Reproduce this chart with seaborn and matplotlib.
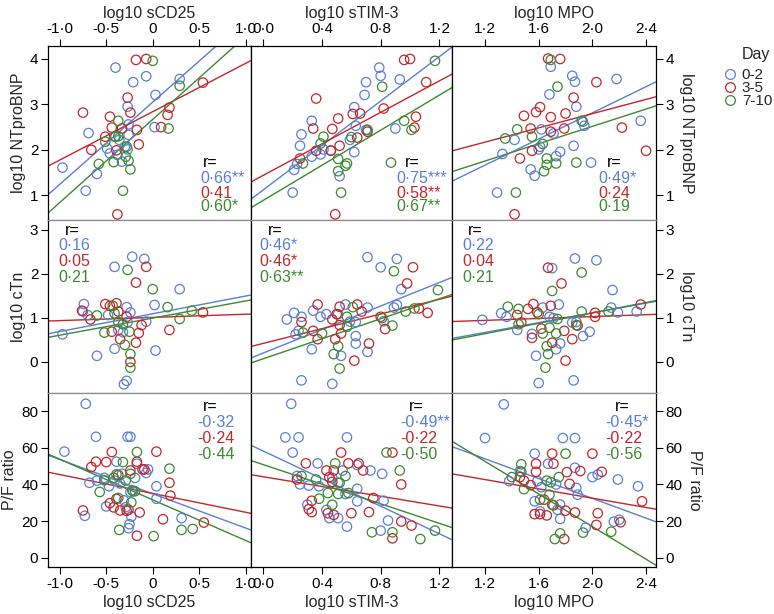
import pandas as pd
import matplotlib
matplotlib.use('Agg')
import matplotlib.pyplot as plt
from matplotlib.lines import Line2D
import seaborn as sns

sns.set_style('ticks')
plt.rcParams['font.family'] = ['Liberation Sans', 'DejaVu Sans']

DAYS = ['0-2', '3-5', '7-10']
PAL = {'0-2': '#5a7fd8', '3-5': '#c4262b', '7-10': '#3b8a2e'}

# ---- row 1: log10 NTproBNP ----
CD25_BNP_A = [(-0.97, 1.61), (-0.72, 1.10), (-0.69, 2.37), (-0.60, 1.47), (-0.40, 3.81), (-0.49, 2.03),
              (-0.46, 1.92), (-0.41, 2.29), (-0.36, 2.22), (-0.38, 1.89), (-0.33, 1.74), (-0.26, 2.33),
              (-0.30, 2.07), (-0.27, 2.01), (-0.21, 3.49), (-0.27, 2.95), (-0.26, 2.56), (-0.07, 3.62),
              (0.03, 3.21), (0.02, 2.50), (0.29, 3.56)]
CD25_BNP_B = [(-0.75, 2.82), (-0.66, 2.00), (-0.51, 2.29), (-0.46, 2.73), (-0.44, 2.49), (-0.39, 1.99),
              (-0.38, 0.58), (-0.33, 2.47), (-0.27, 3.15), (-0.24, 2.82), (-0.18, 3.98), (-0.17, 2.44),
              (-0.15, 2.12), (-0.07, 4.00), (0.09, 2.50), (0.16, 2.77), (0.18, 2.93), (0.54, 3.48)]
CD25_BNP_C = [(-0.58, 1.69), (-0.51, 2.18), (-0.40, 2.29), (-0.37, 2.64), (-0.42, 1.73), (-0.37, 2.30),
              (-0.32, 1.10), (-0.29, 1.85), (-0.28, 2.07), (-0.26, 1.76), (-0.24, 1.57), (0.00, 3.96),
              (0.17, 2.47), (0.29, 3.41)]

TIM3_BNP_A = [(0.20, 1.06), (0.21, 1.56), (0.23, 1.69), (0.25, 2.09), (0.26, 2.34), (0.33, 1.85),
              (0.33, 2.64), (0.39, 1.90), (0.41, 2.01), (0.46, 1.99), (0.52, 1.42), (0.59, 2.22),
              (0.62, 1.95), (0.62, 2.94), (0.63, 2.53), (0.69, 3.21), (0.70, 3.49), (0.70, 2.44),
              (0.79, 3.81), (0.80, 3.63), (0.90, 2.47), (0.93, 3.55)]
TIM3_BNP_B = [(0.25, 1.81), (0.34, 2.47), (0.36, 3.13), (0.36, 1.98), (0.46, 1.98), (0.47, 2.46),
              (0.51, 2.69), (0.52, 2.09), (0.49, 0.58), (0.61, 2.79), (0.66, 2.80), (0.64, 2.27),
              (0.71, 2.40), (0.82, 2.91), (0.96, 3.98), (1.00, 4.00), (1.04, 2.73), (1.03, 2.49),
              (1.11, 3.49)]
TIM3_BNP_C = [(0.27, 1.70), (0.39, 2.14), (0.41, 2.29), (0.51, 1.80), (0.51, 1.53), (0.56, 1.65),
              (0.57, 1.70), (0.53, 1.06), (0.60, 2.28), (0.71, 2.44), (0.81, 3.39), (0.87, 1.72),
              (0.96, 2.64), (1.01, 2.44), (1.17, 3.96)]

MPO_BNP_A = [(1.29, 1.06), (1.33, 1.91), (1.42, 2.22), (1.54, 1.57), (1.57, 1.43), (1.60, 2.01),
             (1.61, 2.07), (1.62, 2.45), (1.68, 3.22), (1.69, 3.83), (1.71, 2.36), (1.73, 1.86),
             (1.76, 1.96), (1.85, 3.63), (1.87, 3.50), (1.86, 2.09), (1.88, 2.95), (1.94, 2.53),
             (1.99, 1.72), (2.18, 3.56), (2.36, 2.64), (1.93, 2.62)]
MPO_BNP_B = [(1.42, 0.58), (1.46, 1.81), (1.49, 2.75), (1.54, 2.47), (1.55, 1.98), (1.58, 2.83),
             (1.61, 2.94), (1.67, 4.01), (1.69, 2.72), (1.69, 2.40), (1.76, 4.00), (1.79, 2.47),
             (1.80, 2.80), (1.86, 3.15), (2.03, 3.49), (2.22, 2.49), (2.40, 1.98)]
MPO_BNP_C = [(1.35, 2.25), (1.43, 1.06), (1.44, 2.45), (1.55, 2.29), (1.63, 2.13), (1.64, 1.53),
             (1.66, 1.67), (1.66, 1.81), (1.69, 3.98), (1.73, 1.70), (1.74, 3.39), (1.88, 1.72),
             (1.92, 2.64)]

# ---- row 2: log10 cTn ----
CD25_CTN_A = [(-0.97, 0.62), (-0.74, 1.31), (-0.75, 1.14), (-0.70, 1.06), (-0.60, 0.13), (-0.48, 1.06),
              (-0.41, 2.16), (-0.41, 0.29), (-0.37, 0.72), (-0.32, 0.67), (-0.31, -0.52), (-0.28, -0.44),
              (-0.28, 1.24), (-0.24, 1.12), (-0.22, 2.39), (-0.27, 0.90), (-0.09, 2.34), (-0.07, 0.91),
              (0.02, 1.29), (0.03, 0.25), (0.29, 1.65)]
CD25_CTN_B = [(-0.76, 1.16), (-0.67, 0.96), (-0.51, 1.31), (-0.46, 1.27), (-0.44, 0.68), (-0.39, 1.33),
              (-0.37, 1.14), (-0.35, 0.51), (-0.28, 1.02), (-0.24, -0.01), (-0.18, 0.43), (-0.18, 1.80),
              (-0.12, 0.83), (-0.15, 0.65), (-0.07, 2.16), (0.18, 0.72), (0.54, 1.12)]
CD25_CTN_C = [(-0.60, 1.05), (-0.52, 0.66), (-0.43, 1.27), (-0.41, 1.10), (-0.37, 0.90), (-0.32, 0.85),
              (-0.30, 0.38), (-0.27, 2.09), (-0.25, 0.68), (-0.24, 0.17), (-0.24, -0.14), (0.00, 1.65),
              (0.16, 1.24), (0.29, 0.97), (0.42, 1.16)]

TIM3_CTN_A = [(0.16, 0.96), (0.21, 1.11), (0.26, 1.02), (0.22, 0.62), (0.24, 0.70), (0.26, -0.43),
              (0.33, 0.28), (0.34, 1.16), (0.39, 1.02), (0.43, 1.08), (0.47, -0.51), (0.51, 1.08),
              (0.53, 0.13), (0.56, 1.30), (0.59, 0.91), (0.63, 0.90), (0.63, 0.58), (0.63, 0.41),
              (0.71, 0.22), (0.71, 2.38), (0.71, 1.23), (0.80, 2.15), (0.82, 0.92), (0.89, 1.23),
              (0.91, 1.29), (0.91, 2.34), (0.94, 1.65)]
TIM3_CTN_B = [(0.26, 0.90), (0.34, 0.70), (0.37, 0.51), (0.37, 1.30), (0.47, 0.96), (0.49, 0.51),
              (0.50, 1.08), (0.52, 1.25), (0.52, 0.83), (0.53, 0.64), (0.62, 0.02), (0.64, 1.30),
              (0.67, 1.14), (0.72, 0.41), (0.80, 1.02), (0.83, 0.74), (0.98, 1.78), (1.02, 2.15),
              (1.06, 1.21), (1.12, 1.11)]
TIM3_CTN_C = [(0.27, 0.66), (0.40, 0.64), (0.48, 0.17), (0.51, 0.35), (0.52, -0.16), (0.57, 1.02),
              (0.57, 0.79), (0.61, 1.24), (0.81, 0.99), (0.88, 0.82), (0.89, 2.06), (0.97, 1.14),
              (1.03, 1.21), (1.19, 1.63)]

MPO_CTN_A = [(1.18, 0.95), (1.32, 1.10), (1.36, 1.02), (1.44, 0.72), (1.55, 0.63), (1.58, 0.13),
             (1.60, -0.49), (1.63, 1.23), (1.68, 1.02), (1.70, 2.13), (1.71, 0.99), (1.73, 0.28),
             (1.75, 1.30), (1.76, 0.41), (1.85, 0.89), (1.87, 2.35), (1.88, 0.90), (1.86, -0.43),
             (1.93, 0.58), (1.98, 0.68), (2.03, 2.31), (2.14, 1.23), (2.15, 1.63), (2.19, 1.12),
             (2.33, 1.14)]
MPO_CTN_B = [(1.44, 1.06), (1.47, 0.89), (1.52, 1.20), (1.55, 0.54), (1.56, 1.31), (1.59, 1.12),
             (1.62, 0.75), (1.67, 2.14), (1.69, 1.27), (1.70, 0.43), (1.77, 1.78), (1.79, 0.70),
             (1.80, 0.02), (1.85, 0.51), (1.89, 0.82), (2.02, 1.11), (2.02, 1.02), (2.36, 1.30)]
MPO_CTN_C = [(1.37, 1.25), (1.45, 1.20), (1.45, 0.85), (1.60, 1.08), (1.63, 0.64), (1.65, -0.14),
             (1.66, 0.35), (1.67, 0.17), (1.68, 0.77), (1.70, 1.61), (1.73, 0.64), (1.74, 0.97),
             (1.88, 0.83), (1.92, 2.03), (1.92, 1.14), (2.12, 1.14)]

# ---- row 3: P/F ratio ----
CD25_PF_A = [(-0.95, 57.9), (-0.72, 84.0), (-0.73, 22.9), (-0.68, 40.9), (-0.61, 66.0), (-0.60, 42.1),
             (-0.52, 43.6), (-0.50, 28.0), (-0.47, 39.0), (-0.41, 42.1), (-0.39, 52.4), (-0.35, 40.5),
             (-0.33, 45.8), (-0.31, 31.3), (-0.29, 27.6), (-0.27, 66.0), (-0.24, 66.0), (-0.26, 16.1),
             (-0.25, 18.3), (-0.24, 35.9), (-0.23, 22.5), (-0.21, 36.3), (-0.19, 43.6), (-0.17, 51.3),
             (-0.07, 46.3), (-0.05, 48.2), (0.04, 39.0), (0.04, 32.2), (0.31, 21.6)]
CD25_PF_B = [(-0.75, 25.8), (-0.66, 49.5), (-0.61, 52.4), (-0.50, 52.2), (-0.46, 29.8), (-0.44, 57.7),
             (-0.42, 27.5), (-0.39, 32.1), (-0.37, 45.1), (-0.35, 25.8), (-0.28, 25.6), (-0.26, 26.2),
             (-0.24, 47.6), (-0.17, 52.4), (-0.17, 12.0), (-0.14, 24.7), (-0.11, 48.2), (-0.09, 48.2),
             (0.04, 57.9), (0.11, 21.0), (0.18, 40.9), (0.19, 33.9), (0.55, 19.2)]
CD25_PF_C = [(-0.57, 35.9), (-0.52, 42.3), (-0.42, 43.6), (-0.39, 45.5), (-0.37, 32.6), (-0.36, 15.2),
             (-0.32, 52.2), (-0.29, 42.1), (-0.24, 45.8), (-0.23, 30.2), (-0.22, 36.7), (-0.19, 36.3),
             (-0.17, 57.7), (0.01, 11.8), (0.18, 48.6), (0.31, 15.2), (0.43, 15.7)]

TIM3_PF_A = [(0.19, 84.0), (0.15, 65.7), (0.24, 65.7), (0.20, 57.4), (0.23, 44.6), (0.25, 40.0),
             (0.31, 39.4), (0.30, 28.9), (0.37, 51.5), (0.38, 39.0), (0.43, 26.1), (0.45, 21.6),
             (0.47, 43.6), (0.51, 21.6), (0.51, 40.9), (0.54, 47.6), (0.56, 34.8), (0.57, 65.7),
             (0.57, 17.0), (0.64, 37.6), (0.64, 30.8), (0.64, 50.6), (0.73, 47.6), (0.81, 45.8),
             (0.82, 31.1), (0.80, 14.8), (0.85, 20.3)]
TIM3_PF_B = [(0.23, 42.7), (0.29, 51.5), (0.33, 31.1), (0.31, 26.5), (0.33, 24.9), (0.43, 47.6),
             (0.44, 24.3), (0.45, 44.0), (0.47, 41.4), (0.48, 47.6), (0.48, 23.4), (0.53, 57.4),
             (0.58, 51.5), (0.60, 24.3), (0.65, 51.5), (0.68, 47.6), (0.72, 24.9), (0.75, 32.6),
             (0.88, 57.4), (0.88, 10.6), (0.94, 40.0), (0.94, 19.8), (1.01, 17.6)]
TIM3_PF_C = [(0.26, 44.6), (0.36, 42.7), (0.38, 32.2), (0.44, 35.3), (0.47, 28.9), (0.49, 51.5),
             (0.51, 34.8), (0.52, 40.9), (0.56, 44.6), (0.58, 35.3), (0.74, 13.9), (0.84, 57.4),
             (0.88, 13.9), (0.93, 47.6), (1.07, 10.2), (1.17, 14.8)]

MPO_PF_A = [(1.34, 83.7), (1.20, 65.3), (1.38, 41.8), (1.46, 47.3), (1.57, 56.8), (1.57, 30.8),
            (1.59, 41.8), (1.61, 25.3), (1.62, 38.5), (1.67, 51.3), (1.73, 40.0), (1.74, 26.2),
            (1.76, 29.0), (1.76, 21.2), (1.78, 65.3), (1.87, 65.3), (1.87, 49.1), (1.88, 38.1),
            (1.89, 34.4), (1.95, 16.4), (2.00, 44.0), (2.04, 45.4), (2.16, 19.7), (2.19, 42.7),
            (2.20, 20.7), (2.34, 39.0)]
MPO_PF_B = [(1.46, 44.0), (1.49, 42.1), (1.54, 39.6), (1.57, 23.8), (1.58, 51.3), (1.58, 46.9),
            (1.61, 23.8), (1.64, 31.7), (1.66, 23.1), (1.70, 56.8), (1.71, 51.3), (1.71, 28.6),
            (1.80, 25.7), (1.81, 46.7), (1.83, 40.3), (1.79, 10.2), (1.87, 24.7), (1.91, 47.3),
            (2.00, 56.8), (2.03, 17.9), (2.04, 24.3), (2.07, 46.9), (2.21, 19.4), (2.37, 30.8)]
MPO_PF_C = [(1.40, 44.0), (1.47, 51.0), (1.47, 46.9), (1.49, 37.4), (1.61, 31.7), (1.66, 42.1),
            (1.68, 34.4), (1.69, 41.2), (1.70, 29.0), (1.72, 10.2), (1.75, 44.0), (1.76, 13.3),
            (1.80, 56.8), (1.93, 13.7), (2.14, 14.2)]

# fitted lines (slope, intercept) for days 0-2, 3-5, 7-10
FIT_CD25_BNP = [(1.81, 3.05), (1.065, 2.84), (1.83, 2.67)]
FIT_TIM3_BNP = [(2.444, 1.12), (1.732, 1.44), (1.93, 0.889)]
FIT_MPO_BNP = [(1.439, -0.063), (0.784, 1.229), (0.953, 0.611)]
FIT_CD25_CTN = [(0.405, 1.089), (0.073, 1.006), (0.391, 0.991)]
FIT_TIM3_CTN = [(1.339, 0.195), (0.838, 0.414), (1.141, 0.063)]
FIT_MPO_CTN = [(0.557, -0.005), (0.108, 0.809), (0.592, -0.075)]
FIT_CD25_PF = [(-18.7, 34.9), (-10.3, 35.1), (-22.2, 31.6)]
FIT_TIM3_PF = [(-37.6, 58.2), (-13.3, 44.2), (-26.7, 50.8)]
FIT_MPO_PF = [(-27.0, 86.4), (-12.7, 57.9), (-44.5, 106.0)]

R_CD25_BNP = ['0·66**', '0·41', '0·60*']
R_TIM3_BNP = ['0·75***', '0·58**', '0·67**']
R_MPO_BNP = ['0·49*', '0·24', '0·19']
R_CD25_CTN = ['0·16', '0·05', '0·21']
R_TIM3_CTN = ['0·46*', '0·46*', '0·63**']
R_MPO_CTN = ['0·22', '0·04', '0·21']
R_CD25_PF = ['-0·32', '-0·24', '-0·44']
R_TIM3_PF = ['-0·49**', '-0·22', '-0·50']
R_MPO_PF = ['-0·45*', '-0·22', '-0·56']

X_LABELS = ['log10 sCD25', 'log10 sTIM-3', 'log10 MPO']
X_TICKS = [[-1.0, -0.5, 0.0, 0.5, 1.0], [0.0, 0.4, 0.8, 1.2], [1.2, 1.6, 2.0, 2.4]]
X_TICKLABELS = [['-1·0', '-0·5', '0', '0·5', '1·0'], ['0·0', '0·4', '0·8', '1·2'], ['1·2', '1·6', '2·0', '2·4']]
Y_LABELS = ['log10 NTproBNP', 'log10 cTn', 'P/F ratio']
Y_TICKS = [[1, 2, 3, 4], [0, 1, 2, 3], [0, 20, 40, 60, 80]]

panels = [
    [(CD25_BNP_A, CD25_BNP_B, CD25_BNP_C, FIT_CD25_BNP, R_CD25_BNP),
     (TIM3_BNP_A, TIM3_BNP_B, TIM3_BNP_C, FIT_TIM3_BNP, R_TIM3_BNP),
     (MPO_BNP_A, MPO_BNP_B, MPO_BNP_C, FIT_MPO_BNP, R_MPO_BNP)],
    [(CD25_CTN_A, CD25_CTN_B, CD25_CTN_C, FIT_CD25_CTN, R_CD25_CTN),
     (TIM3_CTN_A, TIM3_CTN_B, TIM3_CTN_C, FIT_TIM3_CTN, R_TIM3_CTN),
     (MPO_CTN_A, MPO_CTN_B, MPO_CTN_C, FIT_MPO_CTN, R_MPO_CTN)],
    [(CD25_PF_A, CD25_PF_B, CD25_PF_C, FIT_CD25_PF, R_CD25_PF),
     (TIM3_PF_A, TIM3_PF_B, TIM3_PF_C, FIT_TIM3_PF, R_TIM3_PF),
     (MPO_PF_A, MPO_PF_B, MPO_PF_C, FIT_MPO_PF, R_MPO_PF)],
]

# layout (pixels in a 774x614 canvas)
W, H = 774, 614
col_left = [48, 251, 452]
col_w = [203, 201, 204]
row_top = [46, 220, 393]
row_h = [174, 173, 174]
xlims = [(-1.126, 1.057), (-0.084, 1.286), (0.954, 2.474)]
ylims = [(0.456, 4.286), (-0.718, 3.228), (-5.05, 89.9)]
# r= block: (x of values, x of "r=") in axes fraction, and row y fractions
r_x = [[(0.749, 0.762), (0.725, 0.766), (0.716, 0.758)],
       [(0.051, 0.084), (0.041, 0.086), (0.052, 0.078)],
       [(0.734, 0.764), (0.745, 0.786), (0.753, 0.799)]]
r_y = [[0.333, 0.241, 0.155, 0.075],
       [0.942, 0.851, 0.759, 0.666],
       [0.921, 0.832, 0.740, 0.648]]

fig = plt.figure(figsize=(7.74, 6.14), dpi=100)

for i in range(3):
    for j in range(3):
        pa, pb, pc, fits, rvals = panels[i][j]
        ax = fig.add_axes([col_left[j] / W, (H - row_top[i] - row_h[i]) / H, col_w[j] / W, row_h[i] / H])
        rows = []
        for day, pts in zip(DAYS, (pa, pb, pc)):
            for x, y in pts:
                rows.append({'x': x, 'y': y, 'day': day})
        df = pd.DataFrame(rows)
        sns.scatterplot(data=df, x='x', y='y', hue='day', hue_order=DAYS, palette=PAL,
                        s=46, linewidth=0.9, legend=False, ax=ax, zorder=3)
        coll = ax.collections[-1]
        coll.set_edgecolors(coll.get_facecolors())
        coll.set_facecolors('none')

        for day, (m, b) in zip(DAYS, fits):
            ax.axline((0, b), slope=m, color=PAL[day], lw=1.0, zorder=2)

        ax.set_xlim(*xlims[j])
        ax.set_ylim(*ylims[i])
        ax.set_xlabel('')
        ax.set_ylabel('')

        # r values
        vx, rx = r_x[i][j]
        ax.text(rx, r_y[i][0], 'r=', transform=ax.transAxes, ha='left', va='center',
                fontsize=11.5, color='black')
        for k, day in enumerate(DAYS):
            ax.text(vx, r_y[i][k + 1], rvals[k], transform=ax.transAxes, ha='left', va='center',
                    fontsize=11.5, color=PAL[day])

        # ticks
        ax.tick_params(direction='out', length=5, width=0.8, pad=2, labelsize=11, colors='black')
        if i == 0:
            ax.xaxis.set_ticks_position('top')
            ax.xaxis.set_label_position('top')
            ax.set_xticks(X_TICKS[j], X_TICKLABELS[j])
            ax.set_xlabel(X_LABELS[j], fontsize=11.5, labelpad=3)
        elif i == 2:
            ax.xaxis.set_ticks_position('bottom')
            ax.set_xticks(X_TICKS[j], X_TICKLABELS[j])
            ax.set_xlabel(X_LABELS[j], fontsize=11.5, labelpad=3)
        else:
            ax.set_xticks([])
        if j == 0:
            ax.yaxis.set_ticks_position('left')
            ax.set_yticks(Y_TICKS[i], [str(t) for t in Y_TICKS[i]])
            ax.set_ylabel(Y_LABELS[i], fontsize=11.5, labelpad=3)
        elif j == 2:
            ax.yaxis.set_ticks_position('right')
            ax.yaxis.set_label_position('right')
            ax.set_yticks(Y_TICKS[i], [str(t) for t in Y_TICKS[i]])
            ax.set_ylabel(Y_LABELS[i], fontsize=11.5, labelpad=14, rotation=270)
        else:
            ax.set_yticks([])

        for side in ['left', 'right', 'top', 'bottom']:
            ax.spines[side].set_visible(True)
            ax.spines[side].set_color('black')
            ax.spines[side].set_linewidth(0.9)
        if i > 0:
            ax.spines['top'].set_color('#8a8a8a')
        if i < 2:
            ax.spines['bottom'].set_color('#8a8a8a')

# legend: title as its own text, entries packed tightly below
handles = [Line2D([], [], marker='o', ls='', mfc='none', mec=PAL[d], ms=7, mew=0.9) for d in DAYS]
fig.legend(handles, DAYS, loc='upper left', bbox_to_anchor=(722 / W, 1 - 68 / H),
           frameon=False, fontsize=11, handletextpad=0.3, handlelength=1.0,
           labelspacing=-0.05, borderpad=0, borderaxespad=0)
fig.text(756 / W, 1 - 55 / H, 'Day', ha='center', va='center', fontsize=11.5)

fig.savefig('out.png', dpi=100)
plt.close(fig)
